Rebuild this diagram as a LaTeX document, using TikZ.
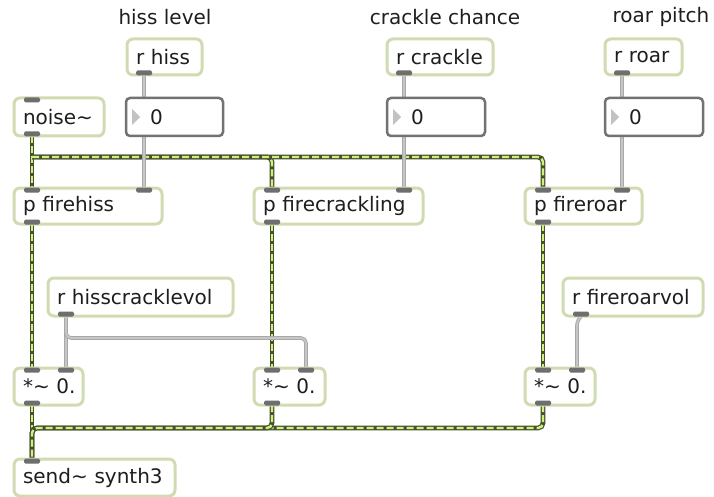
\documentclass[tikz,border=0pt]{standalone}
\usepackage{fontspec}
\setmainfont{DejaVu Sans}
\usetikzlibrary{calc}
\pgfdeclarelayer{cables}
\pgfsetlayers{cables,main}

\definecolor{boxedge}{HTML}{D0DBB2}
\definecolor{tabgray}{HTML}{6E6E6E}
\definecolor{numedge}{HTML}{727272}
\definecolor{trigray}{HTML}{C2C2C2}
\definecolor{sigdark}{HTML}{465030}
\definecolor{siglight}{HTML}{CDF277}
\definecolor{msggray}{HTML}{C6C6C6}
\definecolor{msgedge}{HTML}{A8A8A8}
\definecolor{ink}{HTML}{1E1E1E}

% box from corner (#3,#4) to (#5,#6), style #1, name #2, text #7
\newcommand\mobj[7]{%
  \pgfmathsetmacro\mw{#5-#3}\pgfmathsetmacro\mh{#6-#4}\pgfmathsetmacro\tw{#5-#3-18}%
  \node[#1, minimum width=\mw pt, minimum height=\mh pt, text width=\tw pt] (#2) at (#3,#4) {\mbox{#7}};}
% inlet / outlet tabs, #2 = offset from the left edge
\newcommand\intab[2]{\fill[tabshape] ($(#1.north west)+(#2-8,-0.5)$) rectangle ($(#1.north west)+(#2+8,4.5)$);}
\newcommand\outtab[2]{\fill[tabshape] ($(#1.south west)+(#2-8,-4.5)$) rectangle ($(#1.south west)+(#2+8,0.5)$);}
\newcommand\numtri[1]{\fill[trigray] ($(#1.west)+(6,-8)$) -- ($(#1.west)+(14,0)$) -- ($(#1.west)+(6,8)$) -- cycle;}

\begin{document}
\begin{tikzpicture}[x=1pt,y=-1pt,
  font=\fontsize{20}{23}\selectfont, text=ink,
  obj/.style={draw=boxedge, line width=3pt, fill=white, rounded corners=6pt,
    anchor=north west, outer sep=0pt, inner xsep=9pt, inner ysep=0pt, align=left},
  numbox/.style={draw=numedge, line width=2.5pt, fill=white, rounded corners=4pt,
    anchor=north west, outer sep=0pt, inner xsep=9pt, inner ysep=0pt, align=left},
  tabshape/.style={fill=tabgray, rounded corners=1.5pt},
  lbl/.style={text=ink, inner sep=0pt},
  sig/.style={draw=siglight, line width=2.4pt, dash pattern=on 7pt off 3pt,
    rounded corners=5pt, preaction={draw=sigdark, line width=4.8pt, solid}},
  msg/.style={draw=msggray, line width=1.8pt, rounded corners=5pt,
    preaction={draw=msgedge, line width=3.6pt}}]
\useasboundingbox (0,0) rectangle (714,497);

% parameter labels
\node[lbl] (lhiss) at (165,17) {hiss level};
\node[lbl] (lcrackle) at (445,17) {crackle chance};
\node[lbl] (lroar) at (661,17) {roar pitch};

% receive objects
\mobj{obj}{rhiss}{127}{39}{202}{75}{r hiss}
\mobj{obj}{rcrackle}{387}{39}{493}{75}{r crackle}
\mobj{obj}{rroar}{605}{39}{682}{75}{r roar}

% number boxes
\mobj{numbox}{nb1}{126}{98}{223}{136}{\hspace*{15pt}0}
\mobj{numbox}{nb2}{387}{98}{485}{136}{\hspace*{15pt}0}
\mobj{numbox}{nb3}{605}{98}{703}{136}{\hspace*{15pt}0}
\numtri{nb1}\numtri{nb2}\numtri{nb3}

% signal chain
\mobj{obj}{noise}{14}{98}{104}{136}{noise\char`~}
\mobj{obj}{firehiss}{14}{188}{162}{224}{p firehiss}
\mobj{obj}{firecrack}{254}{188}{423}{224}{p firecrackling}
\mobj{obj}{fireroar}{525}{188}{642}{224}{p fireroar}
\mobj{obj}{rhcv}{48}{278}{233}{316}{r hisscracklevol}
\mobj{obj}{rfrv}{563}{278}{703}{316}{r fireroarvol}
\mobj{obj}{mul1}{14}{368}{83}{405}{*\char`~\ 0.}
\mobj{obj}{mul2}{254}{368}{325}{405}{*\char`~\ 0.}
\mobj{obj}{mul3}{525}{368}{595}{405}{*\char`~\ 0.}
\mobj{obj}{send}{14}{459}{175}{496}{send\char`~\ synth3}

% tabs
\outtab{rhiss}{17}\outtab{rcrackle}{17}\outtab{rroar}{17}
\intab{noise}{18}\outtab{noise}{18}
\intab{firehiss}{18}\intab{firehiss}{130}\outtab{firehiss}{18}
\intab{firecrack}{18}\intab{firecrack}{150}\outtab{firecrack}{18}
\intab{fireroar}{18}\intab{fireroar}{97}\outtab{fireroar}{18}
\outtab{rhcv}{18}\outtab{rfrv}{18}
\intab{mul1}{18}\intab{mul1}{52}\outtab{mul1}{18}
\intab{mul2}{18}\intab{mul2}{52}\outtab{mul2}{18}
\intab{mul3}{18}\intab{mul3}{52}\outtab{mul3}{18}
\intab{send}{18}

% connection points
\coordinate (rhiss-o) at ($(rhiss.south west)+(17,0)$);
\coordinate (rcrackle-o) at ($(rcrackle.south west)+(17,0)$);
\coordinate (rroar-o) at ($(rroar.south west)+(17,0)$);
\coordinate (nb1-i) at ($(nb1.north west)+(18,0)$);
\coordinate (nb1-o) at ($(nb1.south west)+(18,0)$);
\coordinate (nb2-i) at ($(nb2.north west)+(17,0)$);
\coordinate (nb2-o) at ($(nb2.south west)+(17,0)$);
\coordinate (nb3-i) at ($(nb3.north west)+(17,0)$);
\coordinate (nb3-o) at ($(nb3.south west)+(17,0)$);
\coordinate (noise-o) at ($(noise.south west)+(18,0)$);
\coordinate (firehiss-l) at ($(firehiss.north west)+(18,0)$);
\coordinate (firehiss-r) at ($(firehiss.north west)+(130,0)$);
\coordinate (firehiss-o) at ($(firehiss.south west)+(18,0)$);
\coordinate (firecrack-l) at ($(firecrack.north west)+(18,0)$);
\coordinate (firecrack-r) at ($(firecrack.north west)+(150,0)$);
\coordinate (firecrack-o) at ($(firecrack.south west)+(18,0)$);
\coordinate (fireroar-l) at ($(fireroar.north west)+(18,0)$);
\coordinate (fireroar-r) at ($(fireroar.north west)+(97,0)$);
\coordinate (fireroar-o) at ($(fireroar.south west)+(18,0)$);
\coordinate (rhcv-o) at ($(rhcv.south west)+(18,0)$);
\coordinate (rfrv-o) at ($(rfrv.south west)+(18,0)$);
\coordinate (mul1-l) at ($(mul1.north west)+(18,0)$);
\coordinate (mul1-r) at ($(mul1.north west)+(52,0)$);
\coordinate (mul1-o) at ($(mul1.south west)+(18,0)$);
\coordinate (mul2-l) at ($(mul2.north west)+(18,0)$);
\coordinate (mul2-r) at ($(mul2.north west)+(52,0)$);
\coordinate (mul2-o) at ($(mul2.south west)+(18,0)$);
\coordinate (mul3-l) at ($(mul3.north west)+(18,0)$);
\coordinate (mul3-r) at ($(mul3.north west)+(52,0)$);
\coordinate (mul3-o) at ($(mul3.south west)+(18,0)$);
\coordinate (send-i) at ($(send.north west)+(18,0)$);
\coordinate (noisesplit) at ($(noise-o)+(0,21)$);
\coordinate (mixbus) at ($(send-i)+(0,-31)$);

\begin{pgfonlayer}{cables}
  % audio cables
  \draw[sig] (noise-o) -- (firehiss-l);
  \draw[sig] (noisesplit) -| (firecrack-l);
  \draw[sig] (noisesplit) -| (fireroar-l);
  \draw[sig] (firehiss-o) -- (mul1-l);
  \draw[sig] (firecrack-o) -- (mul2-l);
  \draw[sig] (fireroar-o) -- (mul3-l);
  \draw[sig] (mul1-o) -- (send-i);
  \draw[sig] (mul3-o) |- (mixbus) -- (send-i);
  \draw[sig] (mul2-o) |- (mixbus) -- (send-i);
  % control cables
  \draw[msg] (rhiss-o) -- (nb1-i);
  \draw[msg] (nb1-o) -- (firehiss-r);
  \draw[msg] (rcrackle-o) -- (nb2-i);
  \draw[msg] (nb2-o) -- (firecrack-r);
  \draw[msg] (rroar-o) -- (nb3-i);
  \draw[msg] (nb3-o) -- (fireroar-r);
  \draw[msg] (rhcv-o) -- (mul1-r);
  \draw[msg] (rhcv-o) -- ++(0,22) -| (mul2-r);
  \draw[msg, rounded corners=3pt] (rfrv-o) -- ++(-4,6) -- (mul3-r);
\end{pgfonlayer}
\end{tikzpicture}
\end{document}
